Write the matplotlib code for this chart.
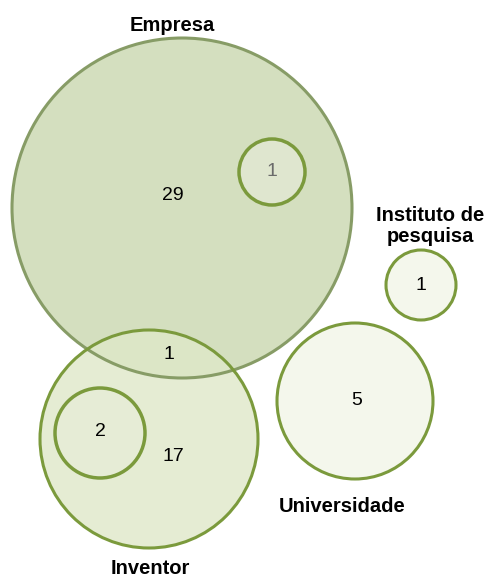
import matplotlib.pyplot as plt
from matplotlib.patches import Circle

plt.rcParams['font.family'] = ['Liberation Sans', 'DejaVu Sans']

# groups: label, count
names = ['Empresa', 'Inventor', 'Universidade', 'Instituto de\npesquisa']
counts = [29, 17, 5, 1]
overlap_empresa_inventor = 1
sub_empresa = 1
sub_inventor = 2

fig = plt.figure(figsize=(4.85, 5.79), dpi=100)
ax = fig.add_axes([0, 0, 1, 1])
ax.set_xlim(0, 485)
ax.set_ylim(579, 0)
ax.set_aspect('equal')
ax.axis('off')

# big circles
ax.add_patch(Circle((182, 208), 170, facecolor='#c3d2a4', alpha=0.7,
                    edgecolor='none', zorder=1))
ax.add_patch(Circle((149, 439), 109, facecolor='#dfe8c8', alpha=0.8,
                    edgecolor='none', zorder=2))
ax.add_patch(Circle((182, 208), 170, facecolor='none', edgecolor='#879c66',
                    lw=2.2, zorder=3))
ax.add_patch(Circle((149, 439), 109, facecolor='none', edgecolor='#7b9a3c',
                    lw=2.2, zorder=3))
ax.add_patch(Circle((355, 401), 78, facecolor='#f4f7ec', edgecolor='#7b9a3c',
                    lw=2.2, zorder=3))
ax.add_patch(Circle((421, 285), 35, facecolor='#f4f7ec', edgecolor='#7b9a3c',
                    lw=2.2, zorder=3))

# nested circles
ax.add_patch(Circle((272, 172), 33, facecolor='#dfe6cf', edgecolor='#7b9a3c',
                    lw=2.5, zorder=4))
ax.add_patch(Circle((100, 433), 45, facecolor='#e6ecd6', edgecolor='#7b9a3c',
                    lw=2.5, zorder=4))

num_kw = dict(ha='center', va='center', fontsize=14, zorder=5)
ax.text(173, 196, str(counts[0]), color='black', **num_kw)
ax.text(173, 457, str(counts[1]), color='black', **num_kw)
ax.text(357, 401, str(counts[2]), color='black', **num_kw)
ax.text(421, 285, str(counts[3]), color='black', **num_kw)
ax.text(169, 355, str(overlap_empresa_inventor), color='black', **num_kw)
ax.text(272, 172, str(sub_empresa), color='#6b6b6b', **num_kw)
ax.text(100, 432, str(sub_inventor), color='black', **num_kw)

lab_kw = dict(ha='center', va='center', fontsize=14.5, fontweight='bold', zorder=5)
ax.text(172, 25, names[0], **lab_kw)
ax.text(150, 569, names[1], **lab_kw)
ax.text(342, 507, names[2], **lab_kw)
ax.text(430, 226, names[3], linespacing=1.15, **lab_kw)

fig.savefig('out.png', dpi=100)
